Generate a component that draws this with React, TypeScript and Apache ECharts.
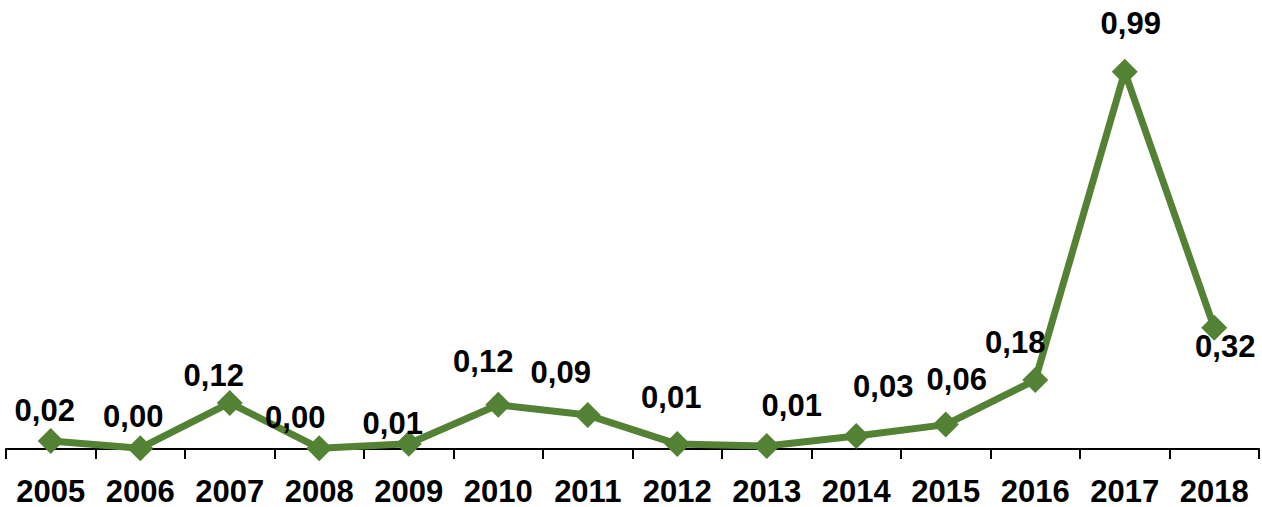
import React, { useEffect, useRef } from "react";
import * as echarts from "echarts";

const years = ["2005", "2006", "2007", "2008", "2009", "2010", "2011", "2012", "2013", "2014", "2015", "2016", "2017", "2018"];
const values = [0.021, 0.002, 0.121, 0.002, 0.014, 0.116, 0.089, 0.013, 0.008, 0.034, 0.064, 0.181, 0.99, 0.318];
// label offsets relative to each point (styling only)
const labelOffsets = [
  [-6, -30], [-7, -32], [-16, -27], [-24, -31], [-16, -20], [-15, -43], [-27, -43],
  [-6, -47], [25, -40], [27, -50], [11, -45], [-20, -38], [6, -48], [11, 19],
];

const GREEN = "#548235";

export default function App() {
  const ref = useRef<HTMLDivElement>(null);
  useEffect(() => {
    if (!ref.current) return;
    const chart = echarts.init(ref.current, null, { renderer: "svg" });
    chart.setOption({
      animation: false,
      backgroundColor: "#ffffff",
      grid: { left: 6, right: 3, top: 68, bottom: 58, containLabel: false },
      xAxis: {
        type: "category",
        data: years,
        boundaryGap: true,
        axisLine: { show: true, lineStyle: { color: "#000000", width: 2 } },
        axisTick: { show: true, length: 10, inside: false, lineStyle: { color: "#000000", width: 2 } },
        axisLabel: {
          color: "#000000",
          fontFamily: "Liberation Sans, Arial, sans-serif",
          fontWeight: "bold",
          fontSize: 31,
          lineHeight: 24,
          margin: 30,
          interval: 0,
        },
        splitLine: { show: false },
      },
      yAxis: {
        type: "value",
        min: 0,
        max: 1,
        show: false,
        splitLine: { show: false },
      },
      series: [
        {
          type: "line",
          data: values.map((v, i) => ({
            value: v,
            label: {
              show: true,
              position: "inside",
              offset: labelOffsets[i],
            },
          })),
          symbol: "diamond",
          symbolSize: 26,
          showAllSymbol: true,
          lineStyle: { color: GREEN, width: 7 },
          itemStyle: { color: GREEN },
          label: {
            show: true,
            position: "inside",
            color: "#000000",
            fontFamily: "Liberation Sans, Arial, sans-serif",
            fontWeight: "bold",
            fontSize: 31,
            formatter: (p: any) => Number(p.value).toFixed(2).replace(".", ","),
          },
          z: 3,
        },
      ],
    });
    return () => chart.dispose();
  }, []);
  return (
    <div
      ref={ref}
      style={{ position: "absolute", left: 0, top: 0, width: 1262, height: 507 }}
    />
  );
}
